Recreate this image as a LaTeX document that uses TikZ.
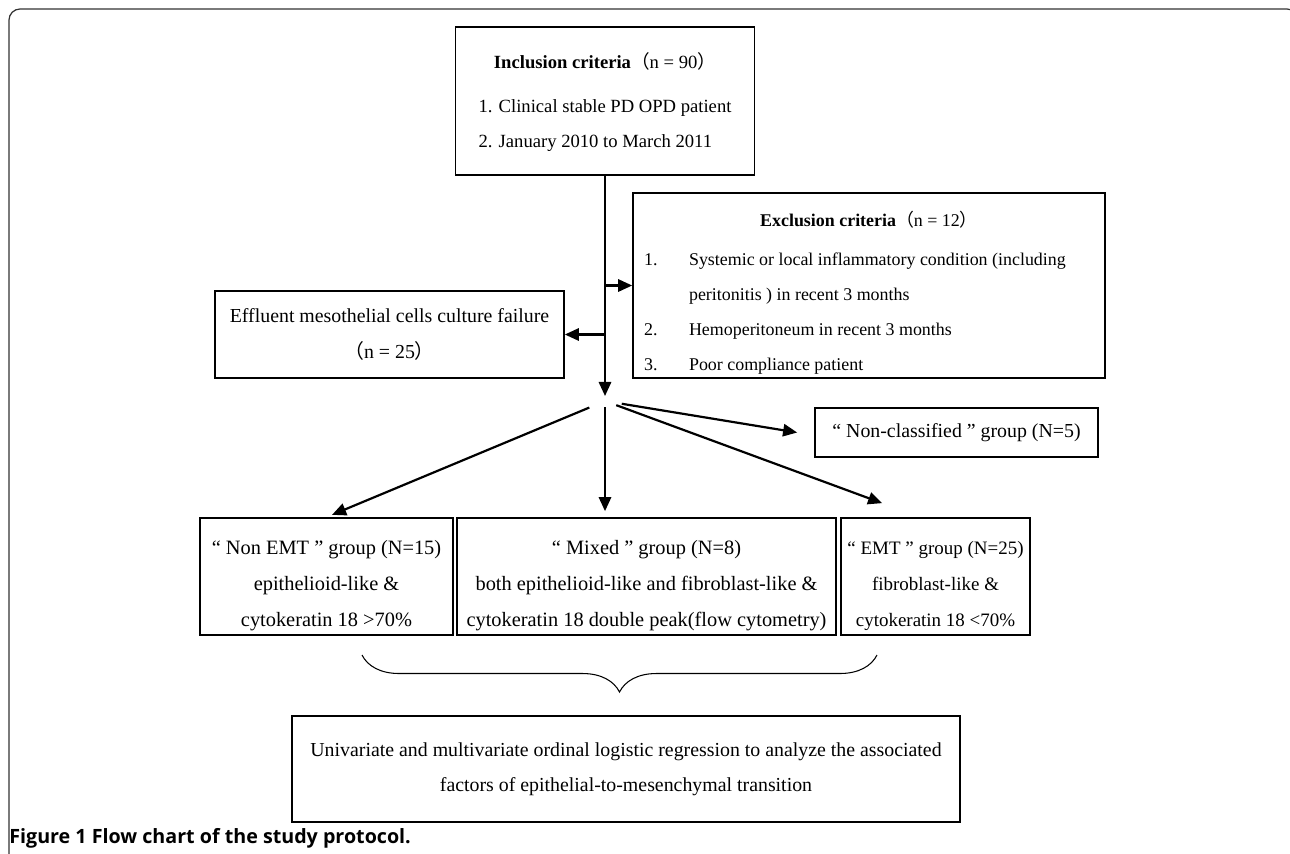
\documentclass[tikz,border=0pt]{standalone}
\usepackage{fontspec}
\setmainfont{Liberation Serif}
\newfontfamily\cjk{Noto Sans CJK SC}
\newfontfamily\capfont{Open Sans}
\usetikzlibrary{arrows.meta,decorations.pathreplacing}

\newcommand{\lpar}{{\cjk （}}
\newcommand{\rpar}{{\cjk ）}}
\newcommand{\lowered}[2]{\raisebox{-#1}[\height][\depth]{\begin{tabular}{@{}c@{}}#2\end{tabular}}}

\begin{document}
\begin{tikzpicture}[x=0.02cm,y=-0.02cm,
	box/.style={draw,line width=1pt,inner sep=0pt,align=center,font=\fontsize{11.3}{20}\selectfont},
	group/.style={box,font=\fontsize{11.6}{20.4}\selectfont,minimum height=2.34cm},
	link/.style={draw,line width=1.25pt,-{Triangle[length=8pt,width=7pt]}}]
			\useasboundingbox (0,0) rectangle (1290,853);
			% page frame
			\draw[line width=0.7pt,black!80,rounded corners=0.22cm] (9,900) -- (9,9) -- (1298,9) -- (1298,900);
			
			\node[box,font=\fontsize{10.6}{20}\selectfont,minimum width=5.98cm,minimum height=2.96cm] (incl) at (605,101) {\begin{tabular}{@{}l@{}}\multicolumn{1}{@{}c@{}}{\textbf{Inclusion criteria}\lpar n = 90\rpar}\\[5pt] 1. Clinical stable PD OPD patient\\ 2. January 2010 to March 2011\end{tabular}};
			\node[box,font=\fontsize{10.2}{20}\selectfont,minimum width=9.44cm,minimum height=3.7cm] (excl) at (869,285.5) {\raisebox{-0.12cm}[\height][\depth]{\begin{tabular}{@{}p{0.9cm}@{}p{8.1cm}@{}}\multicolumn{2}{@{}c@{}}{\textbf{Exclusion criteria}\lpar n = 12\rpar}\\[2pt] 1. & Systemic or local inflammatory condition (including\\ & peritonitis ) in recent 3 months\\ 2. & Hemoperitoneum in recent 3 months\\ 3. & Poor compliance patient\end{tabular}}};
			\node[box,minimum width=6.98cm,minimum height=1.74cm] (effl) at (389.5,334.5) {Effluent mesothelial cells culture failure\\\lpar n = 25\rpar};
			
			\node[box,minimum width=5.66cm,minimum height=0.98cm] (noncl) at (956.5,432.5) {“ Non-classified ” group (N=5)};
			\node[group,minimum width=5.06cm] (nonemt) at (326.5,576.5) {\lowered{0.14cm}{“ Non EMT ” group (N=15)\\epithelioid-like \&\\cytokeratin 18 >70\%}};
			\node[group,minimum width=7.58cm] (mixed) at (646.5,576.5) {\lowered{0.14cm}{“ Mixed ” group (N=8)\\both epithelioid-like and fibroblast-like \&\\cytokeratin 18 double peak(flow cytometry)}};
			\node[group,font=\fontsize{10.8}{20.4}\selectfont,minimum width=3.78cm] (emt) at (935.5,576.5) {\lowered{0.14cm}{“ EMT ” group (N=25)\\fibroblast-like \&\\cytokeratin 18 <70\%}};
			
			\node[box,minimum width=13.36cm,minimum height=2.12cm] (anal) at (626,769) {Univariate and multivariate ordinal logistic regression to analyze the associated\\factors of epithelial-to-mesenchymal transition};
			
			\node[anchor=west,inner sep=0pt,font=\capfont\fontsize{11.2}{13}\selectfont\bfseries] (cap) at (9,838) {Figure 1 Flow chart of the study protocol.};
			
			\coordinate (split) at (605,401);
			\coordinate (braceL) at (362,655);
			\coordinate (braceR) at (877,655);
			
			\path[link,shorten >=0.1cm] (incl.south) -- (split);
			\path[link] (incl.south |- excl.west) -- (excl.west);
			\path[link] (incl.south |- effl.east) -- (effl.east);
			
			\path[link,shorten <=0.34cm,shorten >=0.12cm] (split) -- (nonemt.north);
			\path[link,shorten <=0.12cm,shorten >=0.12cm] (split) -- (split |- mixed.north);
			\path[link,shorten <=0.34cm] (split) -- ([xshift=-0.34cm]noncl.west);
			\path[link,shorten <=0.24cm] (split) -- ([xshift=0.84cm,yshift=0.28cm]emt.north west);
			
			\draw[line width=0.6pt,decorate,decoration={brace,mirror,amplitude=0.74cm}] (braceL) -- (braceR);
		\end{tikzpicture}
\end{document}
